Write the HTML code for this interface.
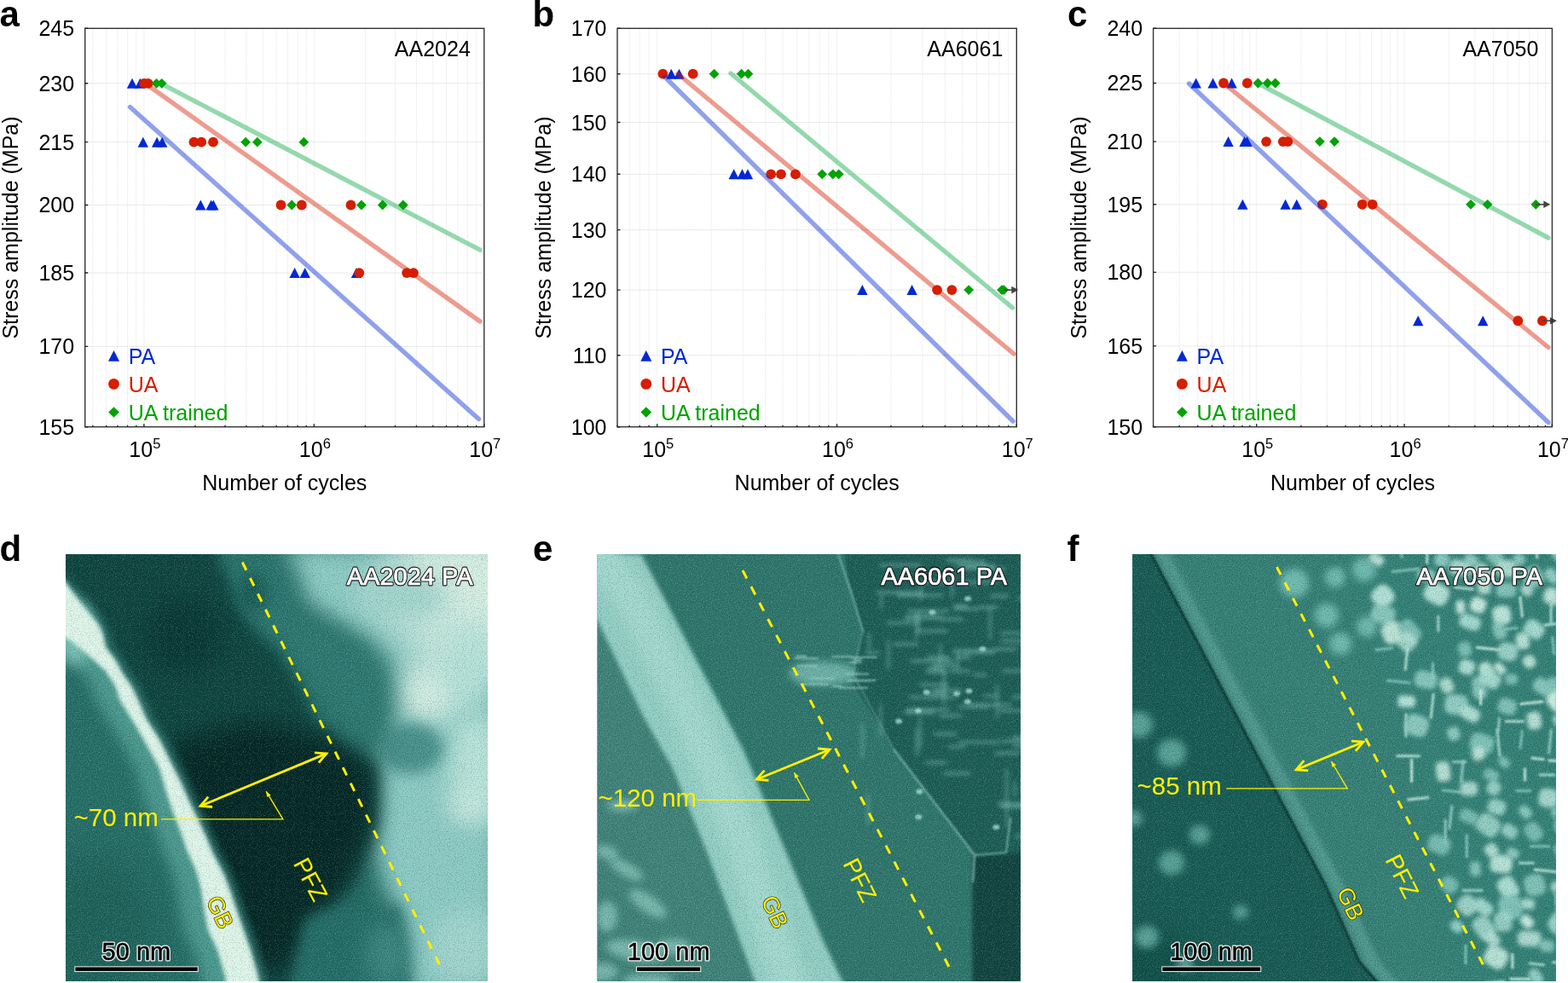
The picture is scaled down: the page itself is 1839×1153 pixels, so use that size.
<!DOCTYPE html>
<html><head><meta charset="utf-8"><title>Fatigue S-N curves and PFZ micrographs</title>
<style>
html,body{margin:0;padding:0;background:#fff;}
body{width:1839px;height:1153px;overflow:hidden;}
svg{display:block;font-family:'Liberation Sans', Arial, Helvetica, sans-serif;}
</style></head><body>
<svg width="1839" height="1153" viewBox="0 0 1839 1153">
<defs>
<filter id="b1d" color-interpolation-filters="sRGB" filterUnits="userSpaceOnUse" x="60" y="630" width="530" height="540"><feGaussianBlur stdDeviation="1"/></filter>
<filter id="b2d" color-interpolation-filters="sRGB" filterUnits="userSpaceOnUse" x="60" y="630" width="530" height="540"><feGaussianBlur stdDeviation="2.5"/></filter>
<filter id="b4d" color-interpolation-filters="sRGB" filterUnits="userSpaceOnUse" x="60" y="630" width="530" height="540"><feGaussianBlur stdDeviation="4"/></filter>
<filter id="b8d" color-interpolation-filters="sRGB" filterUnits="userSpaceOnUse" x="60" y="630" width="530" height="540"><feGaussianBlur stdDeviation="8"/></filter>
<filter id="b14d" color-interpolation-filters="sRGB" filterUnits="userSpaceOnUse" x="60" y="630" width="530" height="540"><feGaussianBlur stdDeviation="14"/></filter>
<filter id="b22d" color-interpolation-filters="sRGB" filterUnits="userSpaceOnUse" x="60" y="630" width="530" height="540"><feGaussianBlur stdDeviation="22"/></filter>
<filter id="noised" filterUnits="userSpaceOnUse" x="60" y="630" width="530" height="540" color-interpolation-filters="sRGB">
  <feTurbulence type="fractalNoise" baseFrequency="0.9" numOctaves="2" seed="3" result="t"/>
  <feColorMatrix in="t" type="matrix" values="0 0 0 0 1  0 0 0 0 1  0 0 0 0 1  1.0 0 0 0 -0.5" result="w"/>
  <feColorMatrix in="t" type="matrix" values="0 0 0 0 0  0 0 0 0 0  0 0 0 0 0  -1.0 0 0 0 0.5" result="k"/>
  <feMerge><feMergeNode in="w"/><feMergeNode in="k"/></feMerge>
</filter>
<filter id="b1e" color-interpolation-filters="sRGB" filterUnits="userSpaceOnUse" x="680" y="630" width="540" height="540"><feGaussianBlur stdDeviation="1"/></filter>
<filter id="b2e" color-interpolation-filters="sRGB" filterUnits="userSpaceOnUse" x="680" y="630" width="540" height="540"><feGaussianBlur stdDeviation="2.5"/></filter>
<filter id="b4e" color-interpolation-filters="sRGB" filterUnits="userSpaceOnUse" x="680" y="630" width="540" height="540"><feGaussianBlur stdDeviation="4"/></filter>
<filter id="b8e" color-interpolation-filters="sRGB" filterUnits="userSpaceOnUse" x="680" y="630" width="540" height="540"><feGaussianBlur stdDeviation="8"/></filter>
<filter id="b14e" color-interpolation-filters="sRGB" filterUnits="userSpaceOnUse" x="680" y="630" width="540" height="540"><feGaussianBlur stdDeviation="14"/></filter>
<filter id="b22e" color-interpolation-filters="sRGB" filterUnits="userSpaceOnUse" x="680" y="630" width="540" height="540"><feGaussianBlur stdDeviation="22"/></filter>
<filter id="noisee" filterUnits="userSpaceOnUse" x="680" y="630" width="540" height="540" color-interpolation-filters="sRGB">
  <feTurbulence type="fractalNoise" baseFrequency="0.9" numOctaves="2" seed="3" result="t"/>
  <feColorMatrix in="t" type="matrix" values="0 0 0 0 1  0 0 0 0 1  0 0 0 0 1  1.0 0 0 0 -0.5" result="w"/>
  <feColorMatrix in="t" type="matrix" values="0 0 0 0 0  0 0 0 0 0  0 0 0 0 0  -1.0 0 0 0 0.5" result="k"/>
  <feMerge><feMergeNode in="w"/><feMergeNode in="k"/></feMerge>
</filter>
<filter id="b1f" color-interpolation-filters="sRGB" filterUnits="userSpaceOnUse" x="1310" y="630" width="530" height="540"><feGaussianBlur stdDeviation="1"/></filter>
<filter id="b2f" color-interpolation-filters="sRGB" filterUnits="userSpaceOnUse" x="1310" y="630" width="530" height="540"><feGaussianBlur stdDeviation="2.5"/></filter>
<filter id="b4f" color-interpolation-filters="sRGB" filterUnits="userSpaceOnUse" x="1310" y="630" width="530" height="540"><feGaussianBlur stdDeviation="4"/></filter>
<filter id="b8f" color-interpolation-filters="sRGB" filterUnits="userSpaceOnUse" x="1310" y="630" width="530" height="540"><feGaussianBlur stdDeviation="8"/></filter>
<filter id="b14f" color-interpolation-filters="sRGB" filterUnits="userSpaceOnUse" x="1310" y="630" width="530" height="540"><feGaussianBlur stdDeviation="14"/></filter>
<filter id="b22f" color-interpolation-filters="sRGB" filterUnits="userSpaceOnUse" x="1310" y="630" width="530" height="540"><feGaussianBlur stdDeviation="22"/></filter>
<filter id="noisef" filterUnits="userSpaceOnUse" x="1310" y="630" width="530" height="540" color-interpolation-filters="sRGB">
  <feTurbulence type="fractalNoise" baseFrequency="0.9" numOctaves="2" seed="3" result="t"/>
  <feColorMatrix in="t" type="matrix" values="0 0 0 0 1  0 0 0 0 1  0 0 0 0 1  1.0 0 0 0 -0.5" result="w"/>
  <feColorMatrix in="t" type="matrix" values="0 0 0 0 0  0 0 0 0 0  0 0 0 0 0  -1.0 0 0 0 0.5" result="k"/>
  <feMerge><feMergeNode in="w"/><feMergeNode in="k"/></feMerge>
</filter>
<clipPath id="cd"><rect x="77" y="650" width="495" height="501"/></clipPath>
<clipPath id="ce"><rect x="700.6" y="650" width="496.4" height="501"/></clipPath>
<clipPath id="cf"><rect x="1328.2" y="650" width="496.6" height="501"/></clipPath>
</defs>
<g>
<path d="M108.83 34.3V499.7M124.62 34.3V499.7M137.97 34.3V499.7M149.54 34.3V499.7M159.74 34.3V499.7M168.87 34.3V499.7M228.92 34.3V499.7M264.04 34.3V499.7M288.96 34.3V499.7M308.29 34.3V499.7M324.08 34.3V499.7M337.44 34.3V499.7M349.01 34.3V499.7M359.21 34.3V499.7M368.34 34.3V499.7M428.38 34.3V499.7M463.5 34.3V499.7M488.43 34.3V499.7M507.76 34.3V499.7M523.55 34.3V499.7M536.9 34.3V499.7M548.47 34.3V499.7M558.67 34.3V499.7" stroke="#e4e4e4" stroke-width="1" stroke-dasharray="1 1" fill="none"/>
<path d="M100.7 406.4H566.8M100.7 320.07H566.8M100.7 240.48H566.8M100.7 166.65H566.8M100.7 97.8H566.8" stroke="#d4d4d4" stroke-width="1" stroke-dasharray="1 1" fill="none"/>
<path d="M155 91.8L161.2 103.8L148.8 103.8Z" fill="#0328D4"/>
<path d="M164.3 91.8L170.5 103.8L158.1 103.8Z" fill="#0328D4"/>
<path d="M167.8 160.65L174 172.65L161.6 172.65Z" fill="#0328D4"/>
<path d="M184.1 160.65L190.3 172.65L177.9 172.65Z" fill="#0328D4"/>
<path d="M190.2 160.65L196.4 172.65L184 172.65Z" fill="#0328D4"/>
<path d="M235.3 234.48L241.5 246.48L229.1 246.48Z" fill="#0328D4"/>
<path d="M247.6 234.48L253.8 246.48L241.4 246.48Z" fill="#0328D4"/>
<path d="M250.3 234.48L256.5 246.48L244.1 246.48Z" fill="#0328D4"/>
<path d="M345.6 314.07L351.8 326.07L339.4 326.07Z" fill="#0328D4"/>
<path d="M357.7 314.07L363.9 326.07L351.5 326.07Z" fill="#0328D4"/>
<path d="M418 314.07L424.2 326.07L411.8 326.07Z" fill="#0328D4"/>
<circle cx="169" cy="97.8" r="5.9" fill="#D61E00"/>
<circle cx="173.7" cy="97.8" r="5.9" fill="#D61E00"/>
<circle cx="227.4" cy="166.65" r="5.9" fill="#D61E00"/>
<circle cx="236.2" cy="166.65" r="5.9" fill="#D61E00"/>
<circle cx="250" cy="166.65" r="5.9" fill="#D61E00"/>
<circle cx="329.5" cy="240.48" r="5.9" fill="#D61E00"/>
<circle cx="353.8" cy="240.48" r="5.9" fill="#D61E00"/>
<circle cx="411.5" cy="240.48" r="5.9" fill="#D61E00"/>
<circle cx="421.3" cy="320.07" r="5.9" fill="#D61E00"/>
<circle cx="477.1" cy="320.07" r="5.9" fill="#D61E00"/>
<circle cx="485" cy="320.07" r="5.9" fill="#D61E00"/>
<path d="M183.5 91.9L189.4 97.8L183.5 103.7L177.6 97.8Z" fill="#00A300"/>
<path d="M189.7 91.9L195.6 97.8L189.7 103.7L183.8 97.8Z" fill="#00A300"/>
<path d="M288.1 160.75L294 166.65L288.1 172.55L282.2 166.65Z" fill="#00A300"/>
<path d="M301.8 160.75L307.7 166.65L301.8 172.55L295.9 166.65Z" fill="#00A300"/>
<path d="M356.3 160.75L362.2 166.65L356.3 172.55L350.4 166.65Z" fill="#00A300"/>
<path d="M342.2 234.58L348.1 240.48L342.2 246.38L336.3 240.48Z" fill="#00A300"/>
<path d="M423.9 234.58L429.8 240.48L423.9 246.38L418 240.48Z" fill="#00A300"/>
<path d="M448.7 234.58L454.6 240.48L448.7 246.38L442.8 240.48Z" fill="#00A300"/>
<path d="M472.8 234.58L478.7 240.48L472.8 246.38L466.9 240.48Z" fill="#00A300"/>
<path d="M152.5 125.5L561.5 491.5" stroke="#0328D4" stroke-opacity="0.44" stroke-width="5.4" stroke-linecap="round"/>
<path d="M172 99L563 377" stroke="#D61E00" stroke-opacity="0.44" stroke-width="5.4" stroke-linecap="round"/>
<path d="M189.6 98.3L563 293.2" stroke="#00A53C" stroke-opacity="0.42" stroke-width="5.4" stroke-linecap="round"/>
<rect x="99.7" y="33.3" width="468.1" height="467.4" fill="none" stroke="#333" stroke-width="1.4"/>
<path d="M99.7 500.7h3.5M99.7 406.4h3.5M99.7 320.07h3.5M99.7 240.48h3.5M99.7 166.65h3.5M99.7 97.8h3.5M99.7 33.3h3.5M108.83 500.7v-2.0M124.62 500.7v-2.0M137.97 500.7v-2.0M149.54 500.7v-2.0M159.74 500.7v-2.0M168.87 500.7v-3.5M228.92 500.7v-2.0M264.04 500.7v-2.0M288.96 500.7v-2.0M308.29 500.7v-2.0M324.08 500.7v-2.0M337.44 500.7v-2.0M349.01 500.7v-2.0M359.21 500.7v-2.0M368.34 500.7v-3.5M428.38 500.7v-2.0M463.5 500.7v-2.0M488.43 500.7v-2.0M507.76 500.7v-2.0M523.55 500.7v-2.0M536.9 500.7v-2.0M548.47 500.7v-2.0M558.67 500.7v-2.0M567.8 500.7v-3.5" stroke="#222" stroke-width="1.4" fill="none"/>
<text x="87.2" y="509.7" text-anchor="end" font-size="25">155</text>
<text x="87.2" y="415.4" text-anchor="end" font-size="25">170</text>
<text x="87.2" y="329.07" text-anchor="end" font-size="25">185</text>
<text x="87.2" y="249.48" text-anchor="end" font-size="25">200</text>
<text x="87.2" y="175.65" text-anchor="end" font-size="25">215</text>
<text x="87.2" y="106.8" text-anchor="end" font-size="25">230</text>
<text x="87.2" y="42.3" text-anchor="end" font-size="25">245</text>
<text x="151.37" y="535.9" font-size="25">10<tspan dy="-9.5" font-size="16.5">5</tspan></text>
<text x="350.84" y="535.9" font-size="25">10<tspan dy="-9.5" font-size="16.5">6</tspan></text>
<text x="550.3" y="535.9" font-size="25">10<tspan dy="-9.5" font-size="16.5">7</tspan></text>
<text x="333.75" y="574.6" text-anchor="middle" font-size="25">Number of cycles</text>
<text transform="translate(21.2 267) rotate(-90)" text-anchor="middle" font-size="25">Stress amplitude (MPa)</text>
<text x="551.8" y="65.8" text-anchor="end" font-size="25">AA2024</text>
<path d="M133.5 411.05L140 423.75L127 423.75Z" fill="#0328D4"/>
<circle cx="133.5" cy="450.4" r="6.4" fill="#D61E00"/>
<path d="M133.5 477.15L139.85 483.5L133.5 489.85L127.15 483.5Z" fill="#00A300"/>
<text x="150.7" y="426.6" font-size="25" fill="#0328D4">PA</text>
<text x="150.7" y="459.6" font-size="25" fill="#D61E00">UA</text>
<text x="150.7" y="492.6" font-size="25" fill="#00A300">UA trained</text>
</g>
<g>
<path d="M738.11 34.3V499.7M750.33 34.3V499.7M761.11 34.3V499.7M770.76 34.3V499.7M834.21 34.3V499.7M871.32 34.3V499.7M897.66 34.3V499.7M918.08 34.3V499.7M934.77 34.3V499.7M948.88 34.3V499.7M961.1 34.3V499.7M971.89 34.3V499.7M981.53 34.3V499.7M1044.98 34.3V499.7M1082.09 34.3V499.7M1108.43 34.3V499.7M1128.85 34.3V499.7M1145.54 34.3V499.7M1159.65 34.3V499.7M1171.87 34.3V499.7M1182.66 34.3V499.7" stroke="#e4e4e4" stroke-width="1" stroke-dasharray="1 1" fill="none"/>
<path d="M725 416.75H1191.3M725 340.1H1191.3M725 269.6H1191.3M725 204.32H1191.3M725 143.55H1191.3M725 86.7H1191.3" stroke="#d4d4d4" stroke-width="1" stroke-dasharray="1 1" fill="none"/>
<circle cx="777.4" cy="86.7" r="5.9" fill="#D61E00"/>
<circle cx="812.7" cy="86.7" r="5.9" fill="#D61E00"/>
<circle cx="904.2" cy="204.32" r="5.9" fill="#D61E00"/>
<circle cx="916" cy="204.32" r="5.9" fill="#D61E00"/>
<circle cx="932.9" cy="204.32" r="5.9" fill="#D61E00"/>
<circle cx="1099.1" cy="340.1" r="5.9" fill="#D61E00"/>
<circle cx="1116.4" cy="340.1" r="5.9" fill="#D61E00"/>
<path d="M787.3 80.7L793.5 92.7L781.1 92.7Z" fill="#0328D4"/>
<path d="M796.5 80.7L802.7 92.7L790.3 92.7Z" fill="#0328D4"/>
<path d="M860.7 198.32L866.9 210.32L854.5 210.32Z" fill="#0328D4"/>
<path d="M870.5 198.32L876.7 210.32L864.3 210.32Z" fill="#0328D4"/>
<path d="M877 198.32L883.2 210.32L870.8 210.32Z" fill="#0328D4"/>
<path d="M1011.4 334.1L1017.6 346.1L1005.2 346.1Z" fill="#0328D4"/>
<path d="M1069.6 334.1L1075.8 346.1L1063.4 346.1Z" fill="#0328D4"/>
<path d="M837.6 80.8L843.5 86.7L837.6 92.6L831.7 86.7Z" fill="#00A300"/>
<path d="M869.6 80.8L875.5 86.7L869.6 92.6L863.7 86.7Z" fill="#00A300"/>
<path d="M877.5 80.8L883.4 86.7L877.5 92.6L871.6 86.7Z" fill="#00A300"/>
<path d="M964.2 198.42L970.1 204.32L964.2 210.22L958.3 204.32Z" fill="#00A300"/>
<path d="M976.8 198.42L982.7 204.32L976.8 210.22L970.9 204.32Z" fill="#00A300"/>
<path d="M983.7 198.42L989.6 204.32L983.7 210.22L977.8 204.32Z" fill="#00A300"/>
<path d="M1136.2 334.2L1142.1 340.1L1136.2 346L1130.3 340.1Z" fill="#00A300"/>
<path d="M1175 334.2L1180.9 340.1L1175 346L1169.1 340.1Z" fill="#00A300"/>
<path d="M1177.3 334.2L1183.2 340.1L1177.3 346L1171.4 340.1Z" fill="#00A300"/>
<path d="M1177.3 340.1H1187.3" stroke="#444" stroke-width="1.6"/>
<path d="M1186.3 335.8L1194.3 340.1L1186.3 344.4Z" fill="#444"/>
<path d="M779.5 90L1188 494" stroke="#0328D4" stroke-opacity="0.44" stroke-width="5.4" stroke-linecap="round"/>
<path d="M795 86.5L1189 415" stroke="#D61E00" stroke-opacity="0.44" stroke-width="5.4" stroke-linecap="round"/>
<path d="M857 86L1187.5 361" stroke="#00A53C" stroke-opacity="0.42" stroke-width="5.4" stroke-linecap="round"/>
<rect x="724" y="33.3" width="468.3" height="467.4" fill="none" stroke="#333" stroke-width="1.4"/>
<path d="M724 500.7h3.5M724 416.75h3.5M724 340.1h3.5M724 269.6h3.5M724 204.32h3.5M724 143.55h3.5M724 86.7h3.5M724 33.3h3.5M724 500.7v-2.0M738.11 500.7v-2.0M750.33 500.7v-2.0M761.11 500.7v-2.0M770.76 500.7v-3.5M834.21 500.7v-2.0M871.32 500.7v-2.0M897.66 500.7v-2.0M918.08 500.7v-2.0M934.77 500.7v-2.0M948.88 500.7v-2.0M961.1 500.7v-2.0M971.89 500.7v-2.0M981.53 500.7v-3.5M1044.98 500.7v-2.0M1082.09 500.7v-2.0M1108.43 500.7v-2.0M1128.85 500.7v-2.0M1145.54 500.7v-2.0M1159.65 500.7v-2.0M1171.87 500.7v-2.0M1182.66 500.7v-2.0M1192.3 500.7v-3.5" stroke="#222" stroke-width="1.4" fill="none"/>
<text x="711.5" y="509.7" text-anchor="end" font-size="25">100</text>
<text x="711.5" y="425.75" text-anchor="end" font-size="25">110</text>
<text x="711.5" y="349.1" text-anchor="end" font-size="25">120</text>
<text x="711.5" y="278.6" text-anchor="end" font-size="25">130</text>
<text x="711.5" y="213.32" text-anchor="end" font-size="25">140</text>
<text x="711.5" y="152.55" text-anchor="end" font-size="25">150</text>
<text x="711.5" y="95.7" text-anchor="end" font-size="25">160</text>
<text x="711.5" y="42.3" text-anchor="end" font-size="25">170</text>
<text x="753.26" y="535.9" font-size="25">10<tspan dy="-9.5" font-size="16.5">5</tspan></text>
<text x="964.03" y="535.9" font-size="25">10<tspan dy="-9.5" font-size="16.5">6</tspan></text>
<text x="1174.8" y="535.9" font-size="25">10<tspan dy="-9.5" font-size="16.5">7</tspan></text>
<text x="958.15" y="574.6" text-anchor="middle" font-size="25">Number of cycles</text>
<text transform="translate(645.5 267) rotate(-90)" text-anchor="middle" font-size="25">Stress amplitude (MPa)</text>
<text x="1176.3" y="65.8" text-anchor="end" font-size="25">AA6061</text>
<path d="M757.8 411.05L764.3 423.75L751.3 423.75Z" fill="#0328D4"/>
<circle cx="757.8" cy="450.4" r="6.4" fill="#D61E00"/>
<path d="M757.8 477.15L764.15 483.5L757.8 489.85L751.45 483.5Z" fill="#00A300"/>
<text x="775" y="426.6" font-size="25" fill="#0328D4">PA</text>
<text x="775" y="459.6" font-size="25" fill="#D61E00">UA</text>
<text x="775" y="492.6" font-size="25" fill="#00A300">UA trained</text>
</g>
<g>
<path d="M1383.12 34.3V499.7M1404.78 34.3V499.7M1421.57 34.3V499.7M1435.3 34.3V499.7M1446.9 34.3V499.7M1456.95 34.3V499.7M1465.82 34.3V499.7M1473.75 34.3V499.7M1525.93 34.3V499.7M1556.45 34.3V499.7M1578.1 34.3V499.7M1594.9 34.3V499.7M1608.62 34.3V499.7M1620.23 34.3V499.7M1630.28 34.3V499.7M1639.14 34.3V499.7M1647.07 34.3V499.7M1699.25 34.3V499.7M1729.77 34.3V499.7M1751.43 34.3V499.7M1768.22 34.3V499.7M1781.95 34.3V499.7M1793.55 34.3V499.7M1803.6 34.3V499.7M1812.47 34.3V499.7" stroke="#e4e4e4" stroke-width="1" stroke-dasharray="1 1" fill="none"/>
<path d="M1353.6 405.92H1819.4M1353.6 319.39H1819.4M1353.6 239.79H1819.4M1353.6 166.09H1819.4M1353.6 97.48H1819.4" stroke="#d4d4d4" stroke-width="1" stroke-dasharray="1 1" fill="none"/>
<circle cx="1435" cy="97.48" r="5.9" fill="#D61E00"/>
<circle cx="1462.8" cy="97.48" r="5.9" fill="#D61E00"/>
<circle cx="1485.1" cy="166.09" r="5.9" fill="#D61E00"/>
<circle cx="1504.8" cy="166.09" r="5.9" fill="#D61E00"/>
<circle cx="1510.5" cy="166.09" r="5.9" fill="#D61E00"/>
<circle cx="1550.9" cy="239.79" r="5.9" fill="#D61E00"/>
<circle cx="1597.7" cy="239.79" r="5.9" fill="#D61E00"/>
<circle cx="1609.7" cy="239.79" r="5.9" fill="#D61E00"/>
<circle cx="1780.3" cy="376.23" r="5.9" fill="#D61E00"/>
<circle cx="1808.9" cy="376.23" r="5.9" fill="#D61E00"/>
<path d="M1402.7 91.48L1408.9 103.48L1396.5 103.48Z" fill="#0328D4"/>
<path d="M1422.6 91.48L1428.8 103.48L1416.4 103.48Z" fill="#0328D4"/>
<path d="M1444.6 91.48L1450.8 103.48L1438.4 103.48Z" fill="#0328D4"/>
<path d="M1440.6 160.09L1446.8 172.09L1434.4 172.09Z" fill="#0328D4"/>
<path d="M1459.6 160.09L1465.8 172.09L1453.4 172.09Z" fill="#0328D4"/>
<path d="M1462.6 160.09L1468.8 172.09L1456.4 172.09Z" fill="#0328D4"/>
<path d="M1457.4 233.79L1463.6 245.79L1451.2 245.79Z" fill="#0328D4"/>
<path d="M1507.6 233.79L1513.8 245.79L1501.4 245.79Z" fill="#0328D4"/>
<path d="M1520.8 233.79L1527 245.79L1514.6 245.79Z" fill="#0328D4"/>
<path d="M1663.2 370.23L1669.4 382.23L1657 382.23Z" fill="#0328D4"/>
<path d="M1739.2 370.23L1745.4 382.23L1733 382.23Z" fill="#0328D4"/>
<path d="M1475.4 91.58L1481.3 97.48L1475.4 103.38L1469.5 97.48Z" fill="#00A300"/>
<path d="M1486.6 91.58L1492.5 97.48L1486.6 103.38L1480.7 97.48Z" fill="#00A300"/>
<path d="M1495.7 91.58L1501.6 97.48L1495.7 103.38L1489.8 97.48Z" fill="#00A300"/>
<path d="M1547.9 160.19L1553.8 166.09L1547.9 171.99L1542 166.09Z" fill="#00A300"/>
<path d="M1565.1 160.19L1571 166.09L1565.1 171.99L1559.2 166.09Z" fill="#00A300"/>
<path d="M1725 233.89L1730.9 239.79L1725 245.69L1719.1 239.79Z" fill="#00A300"/>
<path d="M1744.6 233.89L1750.5 239.79L1744.6 245.69L1738.7 239.79Z" fill="#00A300"/>
<path d="M1801.3 233.89L1807.2 239.79L1801.3 245.69L1795.4 239.79Z" fill="#00A300"/>
<path d="M1801.3 239.79H1811.3" stroke="#444" stroke-width="1.6"/>
<path d="M1810.3 235.49L1818.3 239.79L1810.3 244.09Z" fill="#444"/>
<path d="M1808.9 376.23H1818.9" stroke="#444" stroke-width="1.6"/>
<path d="M1817.9 371.93L1825.9 376.23L1817.9 380.53Z" fill="#444"/>
<path d="M1394.5 98L1816 495.5" stroke="#0328D4" stroke-opacity="0.44" stroke-width="5.4" stroke-linecap="round"/>
<path d="M1435 97.5L1816 407.5" stroke="#D61E00" stroke-opacity="0.44" stroke-width="5.4" stroke-linecap="round"/>
<path d="M1475 97.5L1816 279" stroke="#00A53C" stroke-opacity="0.42" stroke-width="5.4" stroke-linecap="round"/>
<rect x="1352.6" y="33.3" width="467.8" height="467.4" fill="none" stroke="#333" stroke-width="1.4"/>
<path d="M1352.6 500.7h3.5M1352.6 405.92h3.5M1352.6 319.39h3.5M1352.6 239.79h3.5M1352.6 166.09h3.5M1352.6 97.48h3.5M1352.6 33.3h3.5M1352.6 500.7v-2.0M1383.12 500.7v-2.0M1404.78 500.7v-2.0M1421.57 500.7v-2.0M1435.3 500.7v-2.0M1446.9 500.7v-2.0M1456.95 500.7v-2.0M1465.82 500.7v-2.0M1473.75 500.7v-3.5M1525.93 500.7v-2.0M1556.45 500.7v-2.0M1578.1 500.7v-2.0M1594.9 500.7v-2.0M1608.62 500.7v-2.0M1620.23 500.7v-2.0M1630.28 500.7v-2.0M1639.14 500.7v-2.0M1647.07 500.7v-3.5M1699.25 500.7v-2.0M1729.77 500.7v-2.0M1751.43 500.7v-2.0M1768.22 500.7v-2.0M1781.95 500.7v-2.0M1793.55 500.7v-2.0M1803.6 500.7v-2.0M1812.47 500.7v-2.0M1820.4 500.7v-3.5" stroke="#222" stroke-width="1.4" fill="none"/>
<text x="1340.1" y="509.7" text-anchor="end" font-size="25">150</text>
<text x="1340.1" y="414.92" text-anchor="end" font-size="25">165</text>
<text x="1340.1" y="328.39" text-anchor="end" font-size="25">180</text>
<text x="1340.1" y="248.79" text-anchor="end" font-size="25">195</text>
<text x="1340.1" y="175.09" text-anchor="end" font-size="25">210</text>
<text x="1340.1" y="106.48" text-anchor="end" font-size="25">225</text>
<text x="1340.1" y="42.3" text-anchor="end" font-size="25">240</text>
<text x="1456.25" y="535.9" font-size="25">10<tspan dy="-9.5" font-size="16.5">5</tspan></text>
<text x="1629.57" y="535.9" font-size="25">10<tspan dy="-9.5" font-size="16.5">6</tspan></text>
<text x="1802.9" y="535.9" font-size="25">10<tspan dy="-9.5" font-size="16.5">7</tspan></text>
<text x="1586.5" y="574.6" text-anchor="middle" font-size="25">Number of cycles</text>
<text transform="translate(1274.1 267) rotate(-90)" text-anchor="middle" font-size="25">Stress amplitude (MPa)</text>
<text x="1804.4" y="65.8" text-anchor="end" font-size="25">AA7050</text>
<path d="M1386.4 411.05L1392.9 423.75L1379.9 423.75Z" fill="#0328D4"/>
<circle cx="1386.4" cy="450.4" r="6.4" fill="#D61E00"/>
<path d="M1386.4 477.15L1392.75 483.5L1386.4 489.85L1380.05 483.5Z" fill="#00A300"/>
<text x="1403.6" y="426.6" font-size="25" fill="#0328D4">PA</text>
<text x="1403.6" y="459.6" font-size="25" fill="#D61E00">UA</text>
<text x="1403.6" y="492.6" font-size="25" fill="#00A300">UA trained</text>
</g>
<g font-weight="bold" font-size="42">
<text x="-0.5" y="31">a</text>
<text x="624.5" y="30.7">b</text>
<text x="1252" y="31">c</text>
<text x="-0.5" y="657.6">d</text>
<text x="625" y="657.6">e</text>
<text x="1251.5" y="657.6">f</text>
</g>
<g clip-path="url(#cd)">
<rect x="77" y="650" width="495" height="501" fill="rgb(36,110,102)"/>
<ellipse cx="110" cy="1090" rx="80" ry="90" fill="rgb(28,98,90)" filter="url(#b22d)"/>
<path d="M330 640L590 640L590 1170L475 1170L462 1062L440 1000L442 925L448 870L452 810L440 765L400 738L355 705Z" fill="rgb(140,203,197)" filter="url(#b14d)"/>
<ellipse cx="540" cy="690" rx="95" ry="70" fill="rgb(214,239,228)" filter="url(#b22d)"/>
<ellipse cx="540" cy="760" rx="50" ry="40" fill="rgb(200,234,224)" filter="url(#b22d)"/>
<ellipse cx="470" cy="700" rx="55" ry="30" fill="rgb(160,212,205)" filter="url(#b14d)"/>
<ellipse cx="505" cy="812" rx="38" ry="35" fill="rgb(208,236,226)" filter="url(#b14d)"/>
<ellipse cx="548" cy="780" rx="30" ry="45" fill="rgb(180,226,216)" filter="url(#b14d)"/>
<ellipse cx="558" cy="895" rx="30" ry="60" fill="rgb(185,228,218)" filter="url(#b14d)"/>
<ellipse cx="482" cy="878" rx="38" ry="30" fill="rgb(72,145,139)" filter="url(#b8d)"/>
<ellipse cx="552" cy="945" rx="28" ry="22" fill="rgb(195,232,222)" filter="url(#b14d)"/>
<ellipse cx="545" cy="1110" rx="40" ry="45" fill="rgb(160,213,206)" filter="url(#b14d)"/>
<ellipse cx="500" cy="1010" rx="40" ry="40" fill="rgb(140,202,196)" filter="url(#b14d)"/>
<path d="M290 690L360 720L420 745L458 780L462 835L448 885L410 875L372 820L340 770L310 735Z" fill="rgb(44,120,112)" filter="url(#b14d)"/>
<ellipse cx="300" cy="695" rx="48" ry="48" fill="rgb(42,117,110)" filter="url(#b14d)"/>
<path d="M60 640L250 640L272 690L290 730L325 765L352 805L372 850L400 872L440 900L442 960L426 1000L410 1040L385 1062L360 1085L350 1120L340 1170L290 1170L250 1060L220 990L200 950L180 890L160 840L140 800L110 750L90 700L60 680Z" fill="rgb(13,68,63)" filter="url(#b8d)"/>
<path d="M200 870L300 845L390 868L438 902L436 960L424 1000L405 1042L380 1062L356 1088L345 1130L300 1140L250 1050L215 960Z" fill="rgb(4,40,38)" filter="url(#b14d)"/>
<ellipse cx="215" cy="745" rx="45" ry="45" fill="rgb(8,56,53)" filter="url(#b14d)"/>
<ellipse cx="296" cy="695" rx="18" ry="24" fill="rgb(24,92,86)" filter="url(#b8d)"/>
<path d="M360 1075L470 1062L482 1170L340 1170Z" fill="rgb(34,108,102)" filter="url(#b8d)"/>
<ellipse cx="455" cy="1120" rx="25" ry="40" fill="rgb(60,135,128)" filter="url(#b14d)"/>
<path d="M68 676L77 683L96 709L116 733L121 744L124 759L136 775L144 790L155 806L164 825L171.5 843L187 867L201 895L212 917L223 942L232 960L243 984L250 1001L263 1026L270 1044L278 1068L286 1091L294 1114L303 1145L306 1165L238 1165L236 1145L227 1114L216 1091L211.5 1068L208 1044L202 1021L191.5 998L184 976L175 953L167 929L159 901L147 879L131 851L112 820L108 806L96 787L80 772L65 759L49 747L32 742Z" fill="rgb(74,152,142)" filter="url(#b8d)"/>
<path d="M99 709L119 733L124 744L127 759L139 775L147 790L158 806L167 825L174.5 843L190 867L204 895L215 917L226 942L235 960L246 984L253 1001L266 1026L273 1044L281 1068L289 1091L297 1114L306 1145L309 1165" fill="none" stroke="rgb(40,110,104)" stroke-width="6" stroke-linecap="round" stroke-linejoin="round" filter="url(#b4d)"/>
<ellipse cx="88" cy="742" rx="22" ry="38" fill="rgb(120,190,180)" filter="url(#b8d)"/>
<path d="M68 676L77 683L96 709L116 733L121 744L124 759L136 775L144 790L155 806L164 825L171.5 843L187 867L201 895L212 917L223 942L232 960L243 984L250 1001L263 1026L270 1044L278 1068L286 1091L294 1114L303 1145L306 1165L266 1165L264 1145L255 1114L244 1091L239.5 1068L236 1044L230 1021L219.5 998L212 976L203 953L195 929L187 901L175 879L159 851L140 820L136 806L124 787L108 772L93 759L77 747L60 742Z" fill="rgb(204,237,225)" filter="url(#b2d)"/>
<path d="M64 676L73 683L92 709L112 733L117 744L120 759L132 775L140 790L151 806L160 825L167.5 843L183 867L197 895L208 917L219 942L228 960L239 984L246 1001L259 1026L266 1044L274 1068L282 1091L290 1114L299 1145L302 1165L269 1165L267 1145L258 1114L247 1091L242.5 1068L239 1044L233 1021L222.5 998L215 976L206 953L198 929L190 901L178 879L162 851L143 820L139 806L127 787L111 772L96 759L80 747L63 742Z" fill="rgb(222,245,234)" filter="url(#b2d)"/>
<rect x="77" y="650" width="495" height="501" filter="url(#noised)" opacity="0.6"/>
</g>
<path d="M284.3 659.5L515.4 1131.4" stroke="#FFF000" stroke-width="3" stroke-dasharray="10.303 10.303"/>
<path d="M235.1 945.4L382.9 883.9" stroke="#FFF000" stroke-width="2.8"/>
<path d="M373.8 894.6L382.9 883.9L368.9 882.8" stroke="#FFF000" stroke-width="2.8" fill="none" stroke-linejoin="miter"/>
<path d="M244.2 934.7L235.1 945.4L249.1 946.5" stroke="#FFF000" stroke-width="2.8" fill="none" stroke-linejoin="miter"/>
<path d="M189 960.8H331.9L312.1 928.2" stroke="#FFF000" stroke-width="1.3" fill="none"/>
<path d="M312.1 928.2L317.7 932.4L313.2 935.1Z" fill="#FFF000"/>
<text x="86.5" y="968.9" font-size="29.5" fill="#FFF000">~70 nm</text>
<text transform="translate(343.5 1012.7) rotate(62)" font-size="28" fill="#FFF000">PFZ</text>
<text transform="translate(241.4 1056.2) rotate(65)" font-size="27" fill="#FFF000" stroke="#1a1a1a" stroke-width="1.3" paint-order="stroke">GB</text>
<text x="554.5" y="686.2" text-anchor="end" font-size="29" fill="#111" stroke="#111" stroke-width="2.9" stroke-linejoin="round">AA2024 PA</text>
<text x="554.5" y="686.2" text-anchor="end" font-size="29" fill="#fff" stroke="#fff" stroke-width="0.7" stroke-linejoin="round">AA2024 PA</text>
<rect x="87.8" y="1133.9" width="144.4" height="5.6" fill="#000" stroke="#e8e8e8" stroke-width="1.1"/>
<text x="159.9" y="1126" text-anchor="middle" font-size="29" fill="#f0f0f0" stroke="#f0f0f0" stroke-width="3.2" stroke-linejoin="round">50 nm</text>
<text x="159.9" y="1126" text-anchor="middle" font-size="29" fill="#000" stroke="#000" stroke-width="0.5" stroke-linejoin="round">50 nm</text>
<g clip-path="url(#ce)">
<rect x="700" y="650" width="498" height="501" fill="rgb(45,117,107)"/>
<path d="M680 715L700 727L754 840L788 900L829 1000L890 1170L680 1170Z" fill="rgb(62,130,120)" filter="url(#b2e)"/>
<ellipse cx="712" cy="1000" rx="14" ry="8" fill="rgb(125,188,178)" filter="url(#b4e)" opacity="0.9" transform="rotate(20 712 1000)"/>
<ellipse cx="735" cy="1020" rx="22" ry="8" fill="rgb(125,188,178)" filter="url(#b4e)" opacity="0.9" transform="rotate(30 735 1020)"/>
<ellipse cx="760" cy="1060" rx="26" ry="10" fill="rgb(125,188,178)" filter="url(#b4e)" opacity="0.9" transform="rotate(35 760 1060)"/>
<ellipse cx="745" cy="1115" rx="35" ry="12" fill="rgb(125,188,178)" filter="url(#b4e)" opacity="0.9" transform="rotate(10 745 1115)"/>
<ellipse cx="790" cy="1110" rx="20" ry="9" fill="rgb(125,188,178)" filter="url(#b4e)" opacity="0.9"/>
<ellipse cx="712" cy="1075" rx="12" ry="18" fill="rgb(125,188,178)" filter="url(#b4e)" opacity="0.9"/>
<ellipse cx="730" cy="945" rx="18" ry="7" fill="rgb(125,188,178)" filter="url(#b4e)" opacity="0.9"/>
<ellipse cx="705" cy="1140" rx="20" ry="10" fill="rgb(125,188,178)" filter="url(#b4e)" opacity="0.9"/>
<ellipse cx="760" cy="1150" rx="30" ry="8" fill="rgb(125,188,178)" filter="url(#b4e)" opacity="0.9"/>
<path d="M655 650L700 650L752 650L872 880L964 1100L997 1170L892 1170L829 1000L788 900L754 840L700 727L640 660Z" fill="rgb(145,206,196)" filter="url(#b2e)"/>
<path d="M700 650L740 700L805 830L872 990L930 1170" fill="none" stroke="rgb(162,217,207)" stroke-width="40" stroke-linecap="round" stroke-linejoin="round" filter="url(#b8e)"/>
<path d="M990 640L1210 640L1210 1170L1141 1170L1141 1034L1143 1003L1049 880L1000 800L1012 740L995 680Z" fill="rgb(27,92,85)" filter="url(#b1e)"/>
<path d="M1141 1003L1210 1000L1210 1170L1141 1170Z" fill="rgb(16,68,63)" filter="url(#b2e)"/>
<path d="M1049 880L1143 1003L1141 1034" fill="none" stroke="rgb(120,185,175)" stroke-width="2.5" stroke-linecap="round" stroke-linejoin="round" filter="url(#b1e)" opacity="0.8"/>
<path d="M1143 1003L1180 1000L1185 960" fill="none" stroke="rgb(120,185,175)" stroke-width="2.5" stroke-linecap="round" stroke-linejoin="round" filter="url(#b1e)" opacity="0.7"/>
<path d="M983 650L1000 700L1012 740" fill="none" stroke="rgb(120,185,175)" stroke-width="2.5" stroke-linecap="round" stroke-linejoin="round" filter="url(#b1e)" opacity="0.7"/>
<path d="M1012 740L1000 790L1049 880" fill="none" stroke="rgb(110,175,165)" stroke-width="2" stroke-linecap="round" stroke-linejoin="round" filter="url(#b1e)" opacity="0.5"/>
<path d="M1047.6 755.7h29.8M1120.8 770.8h17.6M1051.9 698.4h54.8M1094.1 809.7h34.1M1127.8 682.9h40.4M1173.6 751.8h44.7M1134.3 666.8h45.3M1118.2 710.7h16.2M1173.1 742.5h43.8M1175.8 787.1h51.8M1079 803.2h32.8M1187.1 817.6h18.9M1027.2 695.1h53.6M1087.2 770.9h27M1101.4 726.4h29M1117 763.1h51.2M1136.4 826.9h49.3M1198.2 779.2h21.5M1172.1 833.5h51.2M1113.8 787.1h23.4M1166.3 761.1h26.4M1198 671.4h47M1082.1 682.9h26.8M1153.8 816.5h16.8M1122.9 663.3h43.7M1066.2 818h54.2M1101.1 839.7h27.4M1015.4 766h16.3M1039.5 730.5h39.4M1031.2 662.9h49.7M1062.8 832.4h50.9M1075.6 740.2h35.8M1128.8 765.2h37.4M1124 829h35.3M1086.2 788.3h24.5M1060.2 835.9h35.8M1109.7 657.1h31.6M1116 658.7h39.6M1126.4 666.1h40.1M1093.3 780.7h29.1M1141.4 791.5h15.9M1192.7 701.5h33.3M1118.5 714.2h29.6M1062.5 723.3h38.8M1060.1 724.8h45.9M1147 712.4h23.9M1160.8 699.2h22.5M1087 784.1h19.1M1064.4 716.7h48.3M1087.7 813.3h21.8M1067.3 775.3h50.4M1112.2 876h19.8M1124.7 870.5h47.3M1174.2 869.4h26.1M1169.2 942.7h47.3M1095.2 860.8h26.7M1167 883.4h28.9M1106.7 907.2h31.4M1187.3 865h15.2M1190.9 980.8h54.5M1188.4 875.5h44.8M1173.9 946.1h35.8M1086.2 894.6h24.1" stroke="rgb(140,205,195)" stroke-width="3.2" opacity="0.55" filter="url(#b2e)"/>
<path d="M1018.3 931.1v35.8M1180.9 929v42M1116.7 663.9v37.4M1041.8 750v34.9M1107.1 784.1v43.2M1123.3 762.4v22.6M1169.4 803.2v38.5M1075.1 719.2v31M1161.1 711.4v38.8M1180.5 901.8v39.7M1011.4 848.6v40.9M1019.2 741.4v23.1M1107.5 786.9v29.2M1153.7 660.5v16.6M1033.5 697.4v17.1M1190.3 916.3v17.6M1102.9 754.8v24.4M1075 854.1v32.6M1076.8 717.3v24.9M1032.9 826.7v36.5M1080.3 684v20.4M1079.1 841.3v38.5" stroke="rgb(140,205,195)" stroke-width="3" opacity="0.45" filter="url(#b2e)"/>
<ellipse cx="1078.4" cy="928.4" rx="4" ry="3" fill="rgb(170,225,215)" filter="url(#b1e)" opacity="0.8"/>
<ellipse cx="1122.1" cy="813.8" rx="4" ry="3" fill="rgb(170,225,215)" filter="url(#b1e)" opacity="0.8"/>
<ellipse cx="1077" cy="833.8" rx="4" ry="3" fill="rgb(170,225,215)" filter="url(#b1e)" opacity="0.8"/>
<ellipse cx="1136.5" cy="810.4" rx="4" ry="3" fill="rgb(170,225,215)" filter="url(#b1e)" opacity="0.8"/>
<ellipse cx="1134.9" cy="822.9" rx="4" ry="3" fill="rgb(170,225,215)" filter="url(#b1e)" opacity="0.8"/>
<ellipse cx="1054.1" cy="846.1" rx="4" ry="3" fill="rgb(170,225,215)" filter="url(#b1e)" opacity="0.8"/>
<ellipse cx="1135.1" cy="702.2" rx="4" ry="3" fill="rgb(170,225,215)" filter="url(#b1e)" opacity="0.8"/>
<ellipse cx="1086.5" cy="812" rx="4" ry="3" fill="rgb(170,225,215)" filter="url(#b1e)" opacity="0.8"/>
<ellipse cx="1168.3" cy="970.3" rx="4" ry="3" fill="rgb(170,225,215)" filter="url(#b1e)" opacity="0.8"/>
<ellipse cx="1077.4" cy="958.3" rx="4" ry="3" fill="rgb(170,225,215)" filter="url(#b1e)" opacity="0.8"/>
<ellipse cx="1152.4" cy="761.3" rx="4" ry="3" fill="rgb(170,225,215)" filter="url(#b1e)" opacity="0.8"/>
<ellipse cx="1093.5" cy="718.2" rx="4" ry="3" fill="rgb(170,225,215)" filter="url(#b1e)" opacity="0.8"/>
<ellipse cx="965" cy="790" rx="40" ry="14" fill="rgb(120,190,180)" filter="url(#b4e)" opacity="0.8"/>
<path d="M995.1 798.1h32.2M993.4 798.4h28.3M975.1 770.2h24.7M930.4 772.2h29.4M933.5 769.6h12.5M1000.4 774h10.6M997.3 771.1h31.1M983.9 806.8h33.8M976.3 804.9h10.9M991.4 790.6h27.9M938.5 802.4h33.4M934.9 781.2h24.1M996.2 777.1h14.5M950 795.8h28.8" stroke="rgb(160,215,205)" stroke-width="2" opacity="0.7" filter="url(#b1e)"/>
<rect x="700" y="650" width="498" height="501" filter="url(#noisee)" opacity="0.6"/>
</g>
<path d="M871 669L1113 1134" stroke="#FFF000" stroke-width="3" stroke-dasharray="10.698 10.698"/>
<path d="M887.4 914.2L973 879.2" stroke="#FFF000" stroke-width="2.8"/>
<path d="M963.9 889.8L973 879.2L959 878" stroke="#FFF000" stroke-width="2.8" fill="none" stroke-linejoin="miter"/>
<path d="M896.5 903.6L887.4 914.2L901.4 915.4" stroke="#FFF000" stroke-width="2.8" fill="none" stroke-linejoin="miter"/>
<path d="M817.2 938.4H949L931.4 906.1" stroke="#FFF000" stroke-width="1.3" fill="none"/>
<path d="M931.4 906.1L936.8 910.5L932.2 913.1Z" fill="#FFF000"/>
<text x="701.5" y="945.7" font-size="29.5" fill="#FFF000">~120 nm</text>
<text transform="translate(988.1 1013) rotate(63)" font-size="28" fill="#FFF000">PFZ</text>
<text transform="translate(892.2 1056) rotate(65)" font-size="27" fill="#FFF000" stroke="#1a1a1a" stroke-width="1.3" paint-order="stroke">GB</text>
<text x="1181.2" y="686.2" text-anchor="end" font-size="29" fill="#111" stroke="#111" stroke-width="2.9" stroke-linejoin="round">AA6061 PA</text>
<text x="1181.2" y="686.2" text-anchor="end" font-size="29" fill="#fff" stroke="#fff" stroke-width="0.7" stroke-linejoin="round">AA6061 PA</text>
<rect x="746.5" y="1133.9" width="75.3" height="5.6" fill="#000" stroke="#e8e8e8" stroke-width="1.1"/>
<text x="784.2" y="1126" text-anchor="middle" font-size="29" fill="#f0f0f0" stroke="#f0f0f0" stroke-width="3.2" stroke-linejoin="round">100 nm</text>
<text x="784.2" y="1126" text-anchor="middle" font-size="29" fill="#000" stroke="#000" stroke-width="0.5" stroke-linejoin="round">100 nm</text>
<g clip-path="url(#cf)">
<rect x="1328" y="650" width="498" height="501" fill="rgb(52,127,117)"/>
<path d="M1570 640L1840 640L1840 1170L1712 1170L1690 1050L1670 950L1645 880L1615 780L1590 700Z" fill="rgb(50,128,118)" filter="url(#b8f)"/>
<path d="M1300 640L1345 640L1350 650L1555 1040L1594 1128L1622 1158L1622 1170L1300 1170Z" fill="rgb(22,91,84)" filter="url(#b1f)"/>
<ellipse cx="1350" cy="1130" rx="60" ry="40" fill="rgb(16,80,74)" filter="url(#b14f)"/>
<path d="M1360 640L1365 650L1570 1040L1610 1128L1638 1160" fill="none" stroke="rgb(78,152,142)" stroke-width="17" stroke-linecap="round" stroke-linejoin="round" filter="url(#b4f)"/>
<path d="M1345 640L1350 650L1555 1040L1594 1128L1622 1160" fill="none" stroke="rgb(8,52,48)" stroke-width="3" stroke-linecap="round" stroke-linejoin="round" filter="url(#b1f)"/>
<path d="M1374 650L1580 1040L1622 1128L1650 1160" fill="none" stroke="rgb(30,100,92)" stroke-width="2" stroke-linecap="round" stroke-linejoin="round" filter="url(#b2f)" opacity="0.6"/>
<ellipse cx="1374" cy="883" rx="17" ry="16.1" fill="rgb(85,160,150)" filter="url(#b4f)"/>
<ellipse cx="1336" cy="850" rx="16" ry="15.2" fill="rgb(85,160,150)" filter="url(#b4f)"/>
<ellipse cx="1374" cy="1012" rx="15" ry="14.2" fill="rgb(85,160,150)" filter="url(#b4f)"/>
<ellipse cx="1407" cy="979" rx="12" ry="11.4" fill="rgb(85,160,150)" filter="url(#b4f)"/>
<ellipse cx="1345" cy="1099" rx="14" ry="13.3" fill="rgb(85,160,150)" filter="url(#b4f)"/>
<ellipse cx="1390" cy="1130" rx="10" ry="9.5" fill="rgb(85,160,150)" filter="url(#b4f)"/>
<ellipse cx="1330" cy="960" rx="10" ry="9.5" fill="rgb(85,160,150)" filter="url(#b4f)"/>
<ellipse cx="1455" cy="1070" rx="9" ry="8.5" fill="rgb(85,160,150)" filter="url(#b4f)"/>
<ellipse cx="1518" cy="684" rx="17" ry="17" fill="rgb(110,185,175)" filter="url(#b4f)"/>
<ellipse cx="1556" cy="722" rx="14" ry="14" fill="rgb(110,185,175)" filter="url(#b4f)"/>
<ellipse cx="1572" cy="755" rx="13" ry="13" fill="rgb(110,185,175)" filter="url(#b4f)"/>
<ellipse cx="1566" cy="677" rx="12" ry="12" fill="rgb(110,185,175)" filter="url(#b4f)"/>
<ellipse cx="1600" cy="668" rx="14" ry="14" fill="rgb(110,185,175)" filter="url(#b4f)"/>
<ellipse cx="1603" cy="735" rx="12" ry="12" fill="rgb(110,185,175)" filter="url(#b4f)"/>
<rect x="1605.6" y="649.9" width="18" height="12" rx="4.2" fill="rgb(205,240,228)" opacity="0.83" filter="url(#b2f)" transform="rotate(33 1614.6 655.9)"/>
<rect x="1641.5" y="633.9" width="3.2" height="21" rx="1.5" fill="rgb(130,198,188)" opacity="0.9" filter="url(#b1f)" transform="rotate(-6 1643.1 644.4)"/>
<rect x="1672.2" y="628.2" width="3.2" height="33.5" rx="1.5" fill="rgb(180,228,217)" opacity="0.9" filter="url(#b1f)" transform="rotate(0 1673.8 644.9)"/>
<rect x="1682.5" y="648.5" width="17.2" height="16.4" rx="5.8" fill="rgb(145,208,198)" opacity="0.91" filter="url(#b2f)" transform="rotate(16 1691.1 656.8)"/>
<rect x="1717.3" y="650.7" width="16.7" height="11.7" rx="4.1" fill="rgb(165,220,210)" opacity="0.81" filter="url(#b2f)" transform="rotate(27 1725.6 656.5)"/>
<rect x="1743.7" y="644" width="18.9" height="16.9" rx="5.9" fill="rgb(145,208,198)" opacity="0.83" filter="url(#b2f)" transform="rotate(43 1753.1 652.5)"/>
<rect x="1774.6" y="649.5" width="14.3" height="13.2" rx="4.6" fill="rgb(145,208,198)" opacity="0.87" filter="url(#b2f)" transform="rotate(52 1781.8 656.1)"/>
<rect x="1800.3" y="635.3" width="3.2" height="20.4" rx="1.5" fill="rgb(180,228,217)" opacity="0.9" filter="url(#b1f)" transform="rotate(-6 1801.9 645.5)"/>
<rect x="1820.1" y="640" width="26.5" height="20.6" rx="7.2" fill="rgb(165,220,210)" opacity="0.85" filter="url(#b2f)" transform="rotate(39 1833.4 650.3)"/>
<rect x="1646.5" y="652" width="3.2" height="33.8" rx="1.5" fill="rgb(130,198,188)" opacity="0.9" filter="url(#b1f)" transform="rotate(84 1648.1 668.9)"/>
<rect x="1662.3" y="668" width="20.7" height="13.9" rx="4.9" fill="rgb(145,208,198)" opacity="0.96" filter="url(#b2f)" transform="rotate(3 1672.6 675)"/>
<rect x="1699.6" y="657.3" width="26.6" height="18.3" rx="6.4" fill="rgb(180,228,217)" opacity="0.88" filter="url(#b2f)" transform="rotate(13 1712.9 666.4)"/>
<rect x="1727.8" y="662.2" width="21.3" height="17.4" rx="6.1" fill="rgb(180,228,217)" opacity="0.93" filter="url(#b2f)" transform="rotate(43 1738.5 670.9)"/>
<rect x="1754.5" y="656.7" width="24" height="19.8" rx="6.9" fill="rgb(192,234,222)" opacity="0.86" filter="url(#b2f)" transform="rotate(8 1766.5 666.7)"/>
<rect x="1785.7" y="665.5" width="24.6" height="22.6" rx="7.9" fill="rgb(145,208,198)" opacity="0.87" filter="url(#b2f)" transform="rotate(63 1798 676.7)"/>
<rect x="1810.5" y="668.5" width="19.4" height="13.9" rx="4.8" fill="rgb(145,208,198)" opacity="0.95" filter="url(#b2f)" transform="rotate(43 1820.3 675.4)"/>
<rect x="1609.4" y="686.9" width="25" height="24.8" rx="8.7" fill="rgb(180,228,217)" opacity="0.97" filter="url(#b2f)" transform="rotate(47 1621.9 699.3)"/>
<rect x="1670.4" y="684.2" width="29" height="24.1" rx="8.4" fill="rgb(180,228,217)" opacity="0.97" filter="url(#b2f)" transform="rotate(27 1684.9 696.3)"/>
<rect x="1715.4" y="678" width="3.2" height="23.9" rx="1.5" fill="rgb(180,228,217)" opacity="0.9" filter="url(#b1f)" transform="rotate(96 1717 690)"/>
<rect x="1732.4" y="680.7" width="16.7" height="16" rx="5.6" fill="rgb(205,240,228)" opacity="0.82" filter="url(#b2f)" transform="rotate(87 1740.7 688.7)"/>
<rect x="1754.8" y="683.4" width="23.4" height="17.2" rx="6" fill="rgb(130,198,188)" opacity="0.96" filter="url(#b2f)" transform="rotate(0 1766.5 692)"/>
<rect x="1783.4" y="685.6" width="14.6" height="12.6" rx="4.4" fill="rgb(192,234,222)" opacity="0.82" filter="url(#b2f)" transform="rotate(49 1790.6 691.9)"/>
<rect x="1810.4" y="690" width="23" height="19.3" rx="6.8" fill="rgb(205,240,228)" opacity="0.88" filter="url(#b2f)" transform="rotate(14 1821.9 699.6)"/>
<rect x="1608" y="709.6" width="28.3" height="22.1" rx="7.7" fill="rgb(145,208,198)" opacity="0.88" filter="url(#b2f)" transform="rotate(20 1622.1 720.6)"/>
<rect x="1704.7" y="706.9" width="16.3" height="10.7" rx="3.8" fill="rgb(205,240,228)" opacity="0.92" filter="url(#b2f)" transform="rotate(86 1712.9 712.3)"/>
<rect x="1724.3" y="700.7" width="18.4" height="18" rx="6.3" fill="rgb(205,240,228)" opacity="0.94" filter="url(#b2f)" transform="rotate(22 1733.5 709.7)"/>
<rect x="1750.2" y="711" width="22.3" height="21.2" rx="7.4" fill="rgb(192,234,222)" opacity="0.96" filter="url(#b2f)" transform="rotate(81 1761.3 721.6)"/>
<rect x="1782.5" y="699" width="3.2" height="25.5" rx="1.5" fill="rgb(192,234,222)" opacity="0.9" filter="url(#b1f)" transform="rotate(-6 1784.1 711.8)"/>
<rect x="1817.5" y="707.1" width="3.2" height="24.2" rx="1.5" fill="rgb(165,220,210)" opacity="0.9" filter="url(#b1f)" transform="rotate(0 1819.1 719.2)"/>
<rect x="1620.5" y="729.9" width="25.5" height="24.6" rx="8.6" fill="rgb(205,240,228)" opacity="0.88" filter="url(#b2f)" transform="rotate(68 1633.3 742.2)"/>
<rect x="1638.9" y="730.3" width="28.6" height="20" rx="7" fill="rgb(130,198,188)" opacity="0.89" filter="url(#b2f)" transform="rotate(49 1653.2 740.3)"/>
<rect x="1685.2" y="721.5" width="3.2" height="20.1" rx="1.5" fill="rgb(165,220,210)" opacity="0.9" filter="url(#b1f)" transform="rotate(0 1686.8 731.5)"/>
<rect x="1711.4" y="721.3" width="25.2" height="16.8" rx="5.9" fill="rgb(165,220,210)" opacity="0.95" filter="url(#b2f)" transform="rotate(20 1724 729.8)"/>
<rect x="1748.3" y="731.9" width="21" height="15" rx="5.3" fill="rgb(145,208,198)" opacity="0.83" filter="url(#b2f)" transform="rotate(72 1758.8 739.4)"/>
<rect x="1770.7" y="728.7" width="3.2" height="17" rx="1.5" fill="rgb(130,198,188)" opacity="0.9" filter="url(#b1f)" transform="rotate(84 1772.3 737.2)"/>
<rect x="1787.4" y="728.4" width="23.6" height="19.4" rx="6.8" fill="rgb(165,220,210)" opacity="0.97" filter="url(#b2f)" transform="rotate(34 1799.2 738.1)"/>
<rect x="1825.5" y="715" width="3.2" height="33" rx="1.5" fill="rgb(192,234,222)" opacity="0.9" filter="url(#b1f)" transform="rotate(84 1827.1 731.5)"/>
<rect x="1621.6" y="750.2" width="3.2" height="22.1" rx="1.5" fill="rgb(130,198,188)" opacity="0.9" filter="url(#b1f)" transform="rotate(84 1623.2 761.3)"/>
<rect x="1639.6" y="742.2" width="21.4" height="21.1" rx="7.4" fill="rgb(180,228,217)" opacity="0.82" filter="url(#b2f)" transform="rotate(48 1650.3 752.7)"/>
<rect x="1709.2" y="753.7" width="17.4" height="15.6" rx="5.4" fill="rgb(130,198,188)" opacity="0.87" filter="url(#b2f)" transform="rotate(75 1717.9 761.5)"/>
<rect x="1744.6" y="745.4" width="3.2" height="31" rx="1.5" fill="rgb(205,240,228)" opacity="0.9" filter="url(#b1f)" transform="rotate(96 1746.2 760.9)"/>
<rect x="1757" y="753.9" width="23.2" height="21.1" rx="7.4" fill="rgb(165,220,210)" opacity="0.87" filter="url(#b2f)" transform="rotate(9 1768.6 764.5)"/>
<rect x="1776.2" y="743.7" width="19.6" height="15.7" rx="5.5" fill="rgb(205,240,228)" opacity="0.85" filter="url(#b2f)" transform="rotate(84 1785.9 751.6)"/>
<rect x="1820.2" y="746.1" width="3.2" height="22.7" rx="1.5" fill="rgb(130,198,188)" opacity="0.9" filter="url(#b1f)" transform="rotate(-6 1821.8 757.5)"/>
<rect x="1647.9" y="758.9" width="3.2" height="28" rx="1.5" fill="rgb(180,228,217)" opacity="0.9" filter="url(#b1f)" transform="rotate(6 1649.5 772.9)"/>
<rect x="1678.9" y="776.4" width="3.2" height="20.1" rx="1.5" fill="rgb(130,198,188)" opacity="0.9" filter="url(#b1f)" transform="rotate(0 1680.5 786.5)"/>
<rect x="1711.1" y="774.1" width="18.5" height="16.8" rx="5.9" fill="rgb(180,228,217)" opacity="0.93" filter="url(#b2f)" transform="rotate(15 1720.4 782.5)"/>
<rect x="1733.8" y="778.3" width="18.3" height="14.9" rx="5.2" fill="rgb(205,240,228)" opacity="0.88" filter="url(#b2f)" transform="rotate(61 1742.9 785.8)"/>
<rect x="1751.2" y="779.1" width="15.5" height="10.5" rx="3.7" fill="rgb(192,234,222)" opacity="0.96" filter="url(#b2f)" transform="rotate(44 1759 784.3)"/>
<rect x="1786.2" y="769.1" width="14.8" height="13.9" rx="4.9" fill="rgb(205,240,228)" opacity="0.88" filter="url(#b2f)" transform="rotate(58 1793.6 776)"/>
<rect x="1828.5" y="767.7" width="22.5" height="15.3" rx="5.4" fill="rgb(130,198,188)" opacity="0.86" filter="url(#b2f)" transform="rotate(10 1839.7 775.3)"/>
<rect x="1638.7" y="784.7" width="3.2" height="29.6" rx="1.5" fill="rgb(130,198,188)" opacity="0.9" filter="url(#b1f)" transform="rotate(96 1640.3 799.5)"/>
<rect x="1659" y="787.5" width="26.5" height="19.7" rx="6.9" fill="rgb(145,208,198)" opacity="0.87" filter="url(#b2f)" transform="rotate(12 1672.3 797.3)"/>
<rect x="1687.6" y="796.4" width="18.4" height="15.1" rx="5.3" fill="rgb(192,234,222)" opacity="0.84" filter="url(#b2f)" transform="rotate(63 1696.8 804)"/>
<rect x="1722" y="798" width="26.3" height="17.1" rx="6" fill="rgb(145,208,198)" opacity="0.85" filter="url(#b2f)" transform="rotate(85 1735.2 806.6)"/>
<rect x="1735.1" y="786.8" width="25.2" height="18.8" rx="6.6" fill="rgb(165,220,210)" opacity="0.95" filter="url(#b2f)" transform="rotate(34 1747.7 796.2)"/>
<rect x="1765.5" y="790.5" width="14.5" height="12.2" rx="4.3" fill="rgb(130,198,188)" opacity="0.93" filter="url(#b2f)" transform="rotate(3 1772.8 796.6)"/>
<rect x="1798" y="797.1" width="23.8" height="17.4" rx="6.1" fill="rgb(145,208,198)" opacity="0.88" filter="url(#b2f)" transform="rotate(33 1809.9 805.8)"/>
<rect x="1814.3" y="794.5" width="18.3" height="15.8" rx="5.5" fill="rgb(130,198,188)" opacity="0.91" filter="url(#b2f)" transform="rotate(13 1823.4 802.4)"/>
<rect x="1639.3" y="815.8" width="20.7" height="13.8" rx="4.8" fill="rgb(180,228,217)" opacity="0.98" filter="url(#b2f)" transform="rotate(3 1649.7 822.7)"/>
<rect x="1678.1" y="812.7" width="3.2" height="30.8" rx="1.5" fill="rgb(180,228,217)" opacity="0.9" filter="url(#b1f)" transform="rotate(6 1679.7 828.1)"/>
<rect x="1694.3" y="814.4" width="27" height="23.8" rx="8.3" fill="rgb(145,208,198)" opacity="0.96" filter="url(#b2f)" transform="rotate(6 1707.8 826.3)"/>
<rect x="1735" y="808.3" width="3.2" height="19.1" rx="1.5" fill="rgb(205,240,228)" opacity="0.9" filter="url(#b1f)" transform="rotate(0 1736.6 817.8)"/>
<rect x="1757" y="819.7" width="21.5" height="18" rx="6.3" fill="rgb(145,208,198)" opacity="0.82" filter="url(#b2f)" transform="rotate(18 1767.8 828.7)"/>
<rect x="1795" y="810.2" width="3.2" height="28.2" rx="1.5" fill="rgb(205,240,228)" opacity="0.9" filter="url(#b1f)" transform="rotate(84 1796.6 824.3)"/>
<rect x="1814" y="811.1" width="26.6" height="22.7" rx="7.9" fill="rgb(205,240,228)" opacity="0.97" filter="url(#b2f)" transform="rotate(50 1827.3 822.5)"/>
<rect x="1647.4" y="836.1" width="3.2" height="28.9" rx="1.5" fill="rgb(165,220,210)" opacity="0.9" filter="url(#b1f)" transform="rotate(0 1649 850.6)"/>
<rect x="1647.9" y="838.4" width="27.4" height="24.9" rx="8.7" fill="rgb(145,208,198)" opacity="0.91" filter="url(#b2f)" transform="rotate(19 1661.6 850.9)"/>
<rect x="1713.4" y="829.3" width="22.5" height="16.2" rx="5.7" fill="rgb(180,228,217)" opacity="0.92" filter="url(#b2f)" transform="rotate(29 1724.7 837.4)"/>
<rect x="1756.2" y="840.9" width="3.2" height="17.8" rx="1.5" fill="rgb(145,208,198)" opacity="0.9" filter="url(#b1f)" transform="rotate(6 1757.8 849.8)"/>
<rect x="1774.8" y="834.4" width="3.2" height="23.4" rx="1.5" fill="rgb(180,228,217)" opacity="0.9" filter="url(#b1f)" transform="rotate(90 1776.4 846.1)"/>
<rect x="1788.9" y="837.1" width="20.7" height="16.5" rx="5.8" fill="rgb(192,234,222)" opacity="0.90" filter="url(#b2f)" transform="rotate(81 1799.3 845.3)"/>
<rect x="1820.7" y="839.7" width="16.4" height="12.3" rx="4.3" fill="rgb(180,228,217)" opacity="0.90" filter="url(#b2f)" transform="rotate(51 1828.9 845.9)"/>
<rect x="1697" y="853.4" width="15.7" height="14.4" rx="5" fill="rgb(145,208,198)" opacity="0.93" filter="url(#b2f)" transform="rotate(73 1704.8 860.6)"/>
<rect x="1724.1" y="861.1" width="27.9" height="21.7" rx="7.6" fill="rgb(130,198,188)" opacity="0.95" filter="url(#b2f)" transform="rotate(18 1738.1 871.9)"/>
<rect x="1755.8" y="855" width="3.2" height="32.9" rx="1.5" fill="rgb(165,220,210)" opacity="0.9" filter="url(#b1f)" transform="rotate(-6 1757.4 871.5)"/>
<rect x="1782.6" y="855.9" width="3.2" height="22.9" rx="1.5" fill="rgb(130,198,188)" opacity="0.9" filter="url(#b1f)" transform="rotate(6 1784.2 867.4)"/>
<rect x="1816.4" y="854.4" width="3.2" height="30.6" rx="1.5" fill="rgb(145,208,198)" opacity="0.9" filter="url(#b1f)" transform="rotate(6 1818 869.6)"/>
<rect x="1650" y="872.2" width="3.2" height="29" rx="1.5" fill="rgb(180,228,217)" opacity="0.9" filter="url(#b1f)" transform="rotate(90 1651.6 886.7)"/>
<rect x="1710.2" y="884.9" width="3.2" height="17.5" rx="1.5" fill="rgb(145,208,198)" opacity="0.9" filter="url(#b1f)" transform="rotate(90 1711.8 893.7)"/>
<rect x="1726.4" y="876.6" width="15.3" height="15.1" rx="5.3" fill="rgb(205,240,228)" opacity="0.83" filter="url(#b2f)" transform="rotate(72 1734 884.1)"/>
<rect x="1757" y="888.9" width="14.4" height="10.1" rx="3.5" fill="rgb(130,198,188)" opacity="0.94" filter="url(#b2f)" transform="rotate(45 1764.1 894)"/>
<rect x="1801.8" y="881.6" width="3.2" height="16.4" rx="1.5" fill="rgb(192,234,222)" opacity="0.9" filter="url(#b1f)" transform="rotate(96 1803.4 889.9)"/>
<rect x="1828.9" y="876.8" width="3.2" height="30.7" rx="1.5" fill="rgb(205,240,228)" opacity="0.9" filter="url(#b1f)" transform="rotate(90 1830.5 892.2)"/>
<rect x="1654" y="889.7" width="3.2" height="28.4" rx="1.5" fill="rgb(205,240,228)" opacity="0.9" filter="url(#b1f)" transform="rotate(0 1655.6 903.9)"/>
<rect x="1680.7" y="896.7" width="23.6" height="16.5" rx="5.8" fill="rgb(205,240,228)" opacity="0.84" filter="url(#b2f)" transform="rotate(83 1692.5 905)"/>
<rect x="1713.3" y="890.9" width="3.2" height="27.8" rx="1.5" fill="rgb(145,208,198)" opacity="0.9" filter="url(#b1f)" transform="rotate(6 1714.9 904.8)"/>
<rect x="1739.7" y="903.1" width="18.5" height="12.7" rx="4.5" fill="rgb(130,198,188)" opacity="0.87" filter="url(#b2f)" transform="rotate(27 1749 909.5)"/>
<rect x="1786.9" y="900.2" width="3.2" height="16.3" rx="1.5" fill="rgb(192,234,222)" opacity="0.9" filter="url(#b1f)" transform="rotate(0 1788.5 908.4)"/>
<rect x="1812.9" y="899" width="3.2" height="19.8" rx="1.5" fill="rgb(165,220,210)" opacity="0.9" filter="url(#b1f)" transform="rotate(90 1814.5 908.9)"/>
<rect x="1661.7" y="923.5" width="3.2" height="26.5" rx="1.5" fill="rgb(192,234,222)" opacity="0.9" filter="url(#b1f)" transform="rotate(84 1663.3 936.7)"/>
<rect x="1700.8" y="916" width="3.2" height="24.1" rx="1.5" fill="rgb(130,198,188)" opacity="0.9" filter="url(#b1f)" transform="rotate(96 1702.4 928)"/>
<rect x="1712.5" y="916.9" width="20.5" height="16.6" rx="5.8" fill="rgb(192,234,222)" opacity="0.81" filter="url(#b2f)" transform="rotate(0 1722.8 925.2)"/>
<rect x="1743.7" y="916.3" width="16.3" height="16.1" rx="5.6" fill="rgb(165,220,210)" opacity="0.85" filter="url(#b2f)" transform="rotate(25 1751.8 924.4)"/>
<rect x="1785.2" y="918" width="3.2" height="19" rx="1.5" fill="rgb(130,198,188)" opacity="0.9" filter="url(#b1f)" transform="rotate(90 1786.8 927.5)"/>
<rect x="1804.6" y="924.9" width="23.1" height="22.3" rx="7.8" fill="rgb(180,228,217)" opacity="0.86" filter="url(#b2f)" transform="rotate(11 1816.1 936.1)"/>
<rect x="1844.5" y="919.1" width="3.2" height="26.6" rx="1.5" fill="rgb(130,198,188)" opacity="0.9" filter="url(#b1f)" transform="rotate(0 1846.1 932.4)"/>
<rect x="1699.8" y="944" width="3.2" height="29.6" rx="1.5" fill="rgb(145,208,198)" opacity="0.9" filter="url(#b1f)" transform="rotate(6 1701.4 958.8)"/>
<rect x="1711.6" y="950.1" width="21.4" height="15.1" rx="5.3" fill="rgb(130,198,188)" opacity="0.84" filter="url(#b2f)" transform="rotate(24 1722.3 957.7)"/>
<rect x="1745" y="937.9" width="21" height="17.5" rx="6.1" fill="rgb(165,220,210)" opacity="0.87" filter="url(#b2f)" transform="rotate(18 1755.5 946.6)"/>
<rect x="1780.9" y="946.4" width="16.3" height="12.1" rx="4.2" fill="rgb(145,208,198)" opacity="0.89" filter="url(#b2f)" transform="rotate(48 1789 952.4)"/>
<rect x="1819" y="948.2" width="18.7" height="12.9" rx="4.5" fill="rgb(145,208,198)" opacity="0.85" filter="url(#b2f)" transform="rotate(32 1828.3 954.7)"/>
<rect x="1693.5" y="960.2" width="3.2" height="31.4" rx="1.5" fill="rgb(145,208,198)" opacity="0.9" filter="url(#b1f)" transform="rotate(0 1695.1 975.9)"/>
<rect x="1731.1" y="956.2" width="28.3" height="23.4" rx="8.2" fill="rgb(165,220,210)" opacity="0.82" filter="url(#b2f)" transform="rotate(37 1745.3 968)"/>
<rect x="1760.9" y="967.5" width="19.2" height="14.9" rx="5.2" fill="rgb(165,220,210)" opacity="0.81" filter="url(#b2f)" transform="rotate(34 1770.4 974.9)"/>
<rect x="1787.2" y="966.5" width="22.7" height="18.2" rx="6.4" fill="rgb(130,198,188)" opacity="0.85" filter="url(#b2f)" transform="rotate(50 1798.5 975.6)"/>
<rect x="1823.8" y="958.2" width="24.1" height="23.5" rx="8.2" fill="rgb(180,228,217)" opacity="0.86" filter="url(#b2f)" transform="rotate(73 1835.9 969.9)"/>
<rect x="1674.8" y="979.9" width="26.3" height="21.2" rx="7.4" fill="rgb(130,198,188)" opacity="0.84" filter="url(#b2f)" transform="rotate(22 1687.9 990.5)"/>
<rect x="1718.7" y="977.9" width="3.2" height="28.6" rx="1.5" fill="rgb(130,198,188)" opacity="0.9" filter="url(#b1f)" transform="rotate(0 1720.3 992.2)"/>
<rect x="1741.2" y="990.1" width="16" height="14.6" rx="5.1" fill="rgb(192,234,222)" opacity="0.86" filter="url(#b2f)" transform="rotate(53 1749.2 997.4)"/>
<rect x="1766.9" y="995.2" width="14.9" height="11.2" rx="3.9" fill="rgb(145,208,198)" opacity="0.89" filter="url(#b2f)" transform="rotate(26 1774.3 1000.8)"/>
<rect x="1804.2" y="980.3" width="3.2" height="24.8" rx="1.5" fill="rgb(130,198,188)" opacity="0.9" filter="url(#b1f)" transform="rotate(90 1805.8 992.7)"/>
<rect x="1823.9" y="989.1" width="19.4" height="17.6" rx="6.2" fill="rgb(192,234,222)" opacity="0.89" filter="url(#b2f)" transform="rotate(64 1833.6 997.9)"/>
<rect x="1721.7" y="1012.9" width="17.3" height="12.7" rx="4.4" fill="rgb(145,208,198)" opacity="0.81" filter="url(#b2f)" transform="rotate(84 1730.4 1019.2)"/>
<rect x="1747.6" y="1002.8" width="26.1" height="21" rx="7.4" fill="rgb(192,234,222)" opacity="0.92" filter="url(#b2f)" transform="rotate(6 1760.6 1013.3)"/>
<rect x="1788.8" y="1002.6" width="3.2" height="19.4" rx="1.5" fill="rgb(165,220,210)" opacity="0.9" filter="url(#b1f)" transform="rotate(90 1790.4 1012.3)"/>
<rect x="1811.6" y="1006.5" width="3.2" height="29.8" rx="1.5" fill="rgb(192,234,222)" opacity="0.9" filter="url(#b1f)" transform="rotate(96 1813.2 1021.4)"/>
<rect x="1689.8" y="1028.5" width="20.3" height="18.6" rx="6.5" fill="rgb(130,198,188)" opacity="0.82" filter="url(#b2f)" transform="rotate(35 1699.9 1037.8)"/>
<rect x="1725.3" y="1031.7" width="3.2" height="25.4" rx="1.5" fill="rgb(165,220,210)" opacity="0.9" filter="url(#b1f)" transform="rotate(90 1726.9 1044.4)"/>
<rect x="1755.2" y="1030.7" width="26.7" height="21.2" rx="7.4" fill="rgb(180,228,217)" opacity="0.92" filter="url(#b2f)" transform="rotate(59 1768.5 1041.4)"/>
<rect x="1787.4" y="1025.9" width="25.5" height="24.3" rx="8.5" fill="rgb(145,208,198)" opacity="0.81" filter="url(#b2f)" transform="rotate(74 1800.1 1038)"/>
<rect x="1819" y="1034.5" width="16.3" height="12.2" rx="4.3" fill="rgb(205,240,228)" opacity="0.80" filter="url(#b2f)" transform="rotate(13 1827.1 1040.7)"/>
<rect x="1709.6" y="1050.5" width="22.9" height="22.8" rx="8" fill="rgb(180,228,217)" opacity="0.80" filter="url(#b2f)" transform="rotate(43 1721.1 1061.9)"/>
<rect x="1727.9" y="1056.2" width="23.5" height="16.1" rx="5.6" fill="rgb(165,220,210)" opacity="0.93" filter="url(#b2f)" transform="rotate(37 1739.7 1064.3)"/>
<rect x="1756.9" y="1050.4" width="28.8" height="27.7" rx="9.7" fill="rgb(130,198,188)" opacity="0.94" filter="url(#b2f)" transform="rotate(78 1771.3 1064.3)"/>
<rect x="1783.6" y="1054.1" width="16.4" height="12.3" rx="4.3" fill="rgb(180,228,217)" opacity="0.88" filter="url(#b2f)" transform="rotate(6 1791.8 1060.2)"/>
<rect x="1823.5" y="1046.1" width="3.2" height="22.8" rx="1.5" fill="rgb(145,208,198)" opacity="0.9" filter="url(#b1f)" transform="rotate(-6 1825.1 1057.5)"/>
<rect x="1700.9" y="1080.1" width="15.5" height="12.8" rx="4.5" fill="rgb(145,208,198)" opacity="0.96" filter="url(#b2f)" transform="rotate(37 1708.6 1086.5)"/>
<rect x="1726.4" y="1077.5" width="28.1" height="21.2" rx="7.4" fill="rgb(165,220,210)" opacity="0.87" filter="url(#b2f)" transform="rotate(54 1740.4 1088.1)"/>
<rect x="1751.1" y="1070.8" width="23.4" height="21" rx="7.3" fill="rgb(165,220,210)" opacity="0.81" filter="url(#b2f)" transform="rotate(83 1762.8 1081.2)"/>
<rect x="1782.7" y="1074.7" width="16.6" height="12.7" rx="4.4" fill="rgb(205,240,228)" opacity="0.92" filter="url(#b2f)" transform="rotate(46 1791 1081)"/>
<rect x="1817" y="1069.5" width="29.9" height="28.4" rx="9.9" fill="rgb(180,228,217)" opacity="0.82" filter="url(#b2f)" transform="rotate(39 1832 1083.7)"/>
<rect x="1741.5" y="1094.5" width="17.9" height="14.8" rx="5.2" fill="rgb(180,228,217)" opacity="0.90" filter="url(#b2f)" transform="rotate(45 1750.5 1101.9)"/>
<rect x="1779.8" y="1091.9" width="27.6" height="18" rx="6.3" fill="rgb(192,234,222)" opacity="0.84" filter="url(#b2f)" transform="rotate(3 1793.6 1100.9)"/>
<rect x="1805.5" y="1102.4" width="17.5" height="14.2" rx="5" fill="rgb(145,208,198)" opacity="0.81" filter="url(#b2f)" transform="rotate(11 1814.3 1109.5)"/>
<rect x="1837.3" y="1088.3" width="26.4" height="25.4" rx="8.9" fill="rgb(165,220,210)" opacity="0.91" filter="url(#b2f)" transform="rotate(83 1850.5 1101)"/>
<rect x="1717.4" y="1107.4" width="3.2" height="24.2" rx="1.5" fill="rgb(130,198,188)" opacity="0.9" filter="url(#b1f)" transform="rotate(0 1719 1119.6)"/>
<rect x="1740.9" y="1110.2" width="27.4" height="24.9" rx="8.7" fill="rgb(192,234,222)" opacity="0.91" filter="url(#b2f)" transform="rotate(29 1754.6 1122.7)"/>
<rect x="1772.2" y="1117.7" width="3.2" height="18.7" rx="1.5" fill="rgb(192,234,222)" opacity="0.9" filter="url(#b1f)" transform="rotate(0 1773.8 1127.1)"/>
<rect x="1800.7" y="1121.1" width="3.2" height="19.7" rx="1.5" fill="rgb(165,220,210)" opacity="0.9" filter="url(#b1f)" transform="rotate(96 1802.3 1130.9)"/>
<rect x="1831.8" y="1116.7" width="3.2" height="26.7" rx="1.5" fill="rgb(180,228,217)" opacity="0.9" filter="url(#b1f)" transform="rotate(96 1833.4 1130)"/>
<rect x="1752.3" y="1139.7" width="3.2" height="24" rx="1.5" fill="rgb(145,208,198)" opacity="0.9" filter="url(#b1f)" transform="rotate(84 1753.9 1151.7)"/>
<rect x="1781.5" y="1135.4" width="3.2" height="25.8" rx="1.5" fill="rgb(205,240,228)" opacity="0.9" filter="url(#b1f)" transform="rotate(90 1783.1 1148.3)"/>
<rect x="1791.8" y="1138.9" width="19" height="13.1" rx="4.6" fill="rgb(165,220,210)" opacity="0.84" filter="url(#b2f)" transform="rotate(54 1801.3 1145.4)"/>
<rect x="1833.8" y="1137.5" width="21.8" height="15.3" rx="5.3" fill="rgb(165,220,210)" opacity="0.92" filter="url(#b2f)" transform="rotate(65 1844.7 1145.1)"/>
<rect x="1328" y="650" width="498" height="501" filter="url(#noisef)" opacity="0.6"/>
</g>
<path d="M1497.4 665L1739.3 1131.3" stroke="#FFF000" stroke-width="3" stroke-dasharray="10.300 10.300"/>
<path d="M1520.3 902.8L1599 870.2" stroke="#FFF000" stroke-width="2.8"/>
<path d="M1589.9 880.8L1599 870.2L1585 869.1" stroke="#FFF000" stroke-width="2.8" fill="none" stroke-linejoin="miter"/>
<path d="M1529.4 892.2L1520.3 902.8L1534.3 903.9" stroke="#FFF000" stroke-width="2.8" fill="none" stroke-linejoin="miter"/>
<path d="M1438.3 924.8H1580.2L1561.4 893" stroke="#FFF000" stroke-width="1.3" fill="none"/>
<path d="M1561.4 893L1567 897.3L1562.4 899.9Z" fill="#FFF000"/>
<text x="1333.5" y="932.2" font-size="29.5" fill="#FFF000">~85 nm</text>
<text transform="translate(1623.9 1008.5) rotate(63)" font-size="28" fill="#FFF000">PFZ</text>
<text transform="translate(1567.3 1046.1) rotate(65)" font-size="27" fill="#FFF000" stroke="#1a1a1a" stroke-width="1.3" paint-order="stroke">GB</text>
<text x="1809" y="686.2" text-anchor="end" font-size="29" fill="#111" stroke="#111" stroke-width="2.9" stroke-linejoin="round">AA7050 PA</text>
<text x="1809" y="686.2" text-anchor="end" font-size="29" fill="#fff" stroke="#fff" stroke-width="0.7" stroke-linejoin="round">AA7050 PA</text>
<rect x="1362.8" y="1133.9" width="116" height="5.6" fill="#000" stroke="#e8e8e8" stroke-width="1.1"/>
<text x="1420.6" y="1126" text-anchor="middle" font-size="29" fill="#f0f0f0" stroke="#f0f0f0" stroke-width="3.2" stroke-linejoin="round">100 nm</text>
<text x="1420.6" y="1126" text-anchor="middle" font-size="29" fill="#000" stroke="#000" stroke-width="0.5" stroke-linejoin="round">100 nm</text>
</svg></body></html>
